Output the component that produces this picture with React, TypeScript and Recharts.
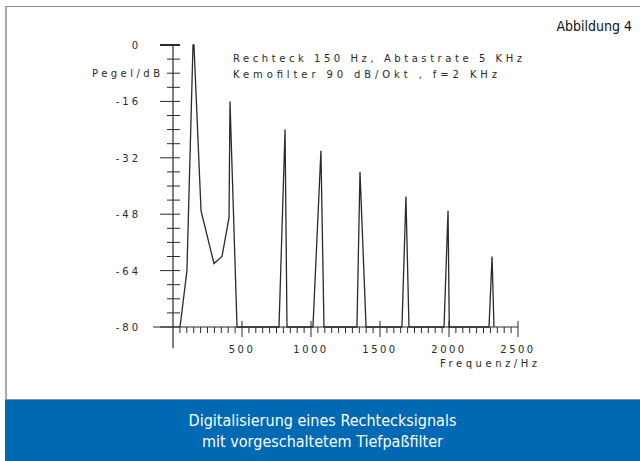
import React from 'react';
import { LineChart, Line, XAxis, YAxis, ReferenceLine } from 'recharts';

// spectrum trace (Hz / dB)
const spectrumHz = [51, 101, 145, 152, 203, 297, 355, 406, 413, 464, 768, 812, 826, 1014, 1072, 1094, 1333, 1355, 1399, 1659, 1688, 1710, 1964, 1993, 2002, 2290, 2312, 2326];
const spectrumDb = [-80, -64, 0, 0, -47, -62, -60, -49, -16, -80, -80, -24, -80, -80, -30, -80, -80, -36, -80, -80, -43, -80, -80, -47, -80, -80, -60, -80];

const xTicks = Array.from({ length: 51 }, (_, i) => i * 50);
const yTicks = Array.from({ length: 21 }, (_, i) => -i * 4);
const xLabels = [500, 1000, 1500, 2000, 2500];
const yLabels = [0, -16, -32, -48, -64, -80];

const data = spectrumHz.map((hz, i) => ({ hz, db: spectrumDb[i] }));

const ink = '#2a2a2a';
const plotFont = '"DejaVu Sans", Verdana, sans-serif';
const narrowFont = '"Liberation Sans Narrow", "DejaVu Sans Condensed", Roboto, sans-serif';

const XTick = ({ x, y, payload }: any) => {
  const v = payload.value;
  if (v === 0) return null;
  const major = xLabels.includes(v);
  return (
    <g>
      <line x1={x} x2={x} y1={major ? y - 6 : y} y2={major ? y + 10 : y + 6} stroke={ink} strokeWidth={1} />
      {major && (
        <text x={x} y={y + 26} textAnchor="middle" fontSize={10} fontFamily={plotFont} letterSpacing={2.5} fill={ink}>
          {v}
        </text>
      )}
    </g>
  );
};

const YTick = ({ x, y, payload }: any) => {
  const v = payload.value;
  const major = yLabels.includes(v);
  return (
    <g>
      <line x1={major ? x - 13 : x - 6} x2={x + 7} y1={y} y2={y} stroke={ink} strokeWidth={v === 0 ? 2 : 1} />
      {major && (
        <text x={x - 32} y={y + 4} textAnchor="end" fontSize={10} fontFamily={plotFont} letterSpacing={3} fill={ink}>
          {v}
        </text>
      )}
    </g>
  );
};

const App = () => {
  return (
    <div style={{ position: 'absolute', left: 0, top: 0, width: 640, height: 461, background: '#fff', overflow: 'hidden' }}>
      <div style={{ position: 'absolute', left: 5, top: 6, width: 635, height: 394, borderTop: '1px solid #8a8a8a', borderLeft: '2px solid #a9a9a9', boxSizing: 'border-box' }} />
      <div style={{ position: 'absolute', left: 5, top: 399, width: 635, height: 62, background: '#0069b4', borderTop: '1px solid #8a8a8a', boxSizing: 'border-box' }} />
      <div style={{ position: 'absolute', left: 5, top: 410, width: 635, textAlign: 'center', color: '#fff', fontFamily: narrowFont, fontSize: 16, lineHeight: '21px' }}>
        Digitalisierung eines Rechtecksignals
        <br />
        mit vorgeschaltetem Tiefpaßfilter
      </div>
      <div style={{ position: 'absolute', right: 8, top: 18, color: '#111', fontFamily: narrowFont, fontSize: 14 }}>
        Abbildung 4
      </div>
      <div style={{ position: 'absolute', left: 0, top: 0 }}>
        <LineChart width={640} height={400} data={data} margin={{ top: 45, right: 122, bottom: 43, left: 113 }}>
          <XAxis
            dataKey="hz"
            type="number"
            domain={[0, 2500]}
            ticks={xTicks}
            interval={0}
            tick={<XTick />}
            tickLine={false}
            axisLine={false}
            tickSize={0}
            tickMargin={0}
            height={30}
          />
          <YAxis
            type="number"
            domain={[-80, 0]}
            ticks={yTicks}
            interval={0}
            tick={<YTick />}
            tickLine={false}
            axisLine={false}
            tickSize={0}
            tickMargin={0}
            width={60}
          />
          <ReferenceLine segment={[{ x: -145, y: -80 }, { x: 2500, y: -80 }]} stroke={ink} strokeWidth={1.2} ifOverflow="visible" />
          <ReferenceLine segment={[{ x: 0, y: 0 }, { x: 0, y: -86 }]} stroke={ink} strokeWidth={1.2} ifOverflow="visible" />
          <Line type="linear" dataKey="db" stroke={ink} strokeWidth={1.3} dot={false} isAnimationActive={false} />
        </LineChart>
      </div>
      <svg width={640} height={400} style={{ position: 'absolute', left: 0, top: 0, pointerEvents: 'none' }}>
        <g fontFamily={plotFont} fontSize={10} fill={ink}>
          <text x={233} y={62} textLength={289} lengthAdjust="spacing">Rechteck 150 Hz, Abtastrate 5 KHz</text>
          <text x={233} y={78} textLength={264} lengthAdjust="spacing">Kemofilter 90 dB/Okt , f=2 KHz</text>
          <text x={160} y={77} textAnchor="end" textLength={68} lengthAdjust="spacing">Pegel/dB</text>
          <text x={537} y={367} textAnchor="end" textLength={97} lengthAdjust="spacing">Frequenz/Hz</text>
        </g>
      </svg>
    </div>
  );
};

export default App;
